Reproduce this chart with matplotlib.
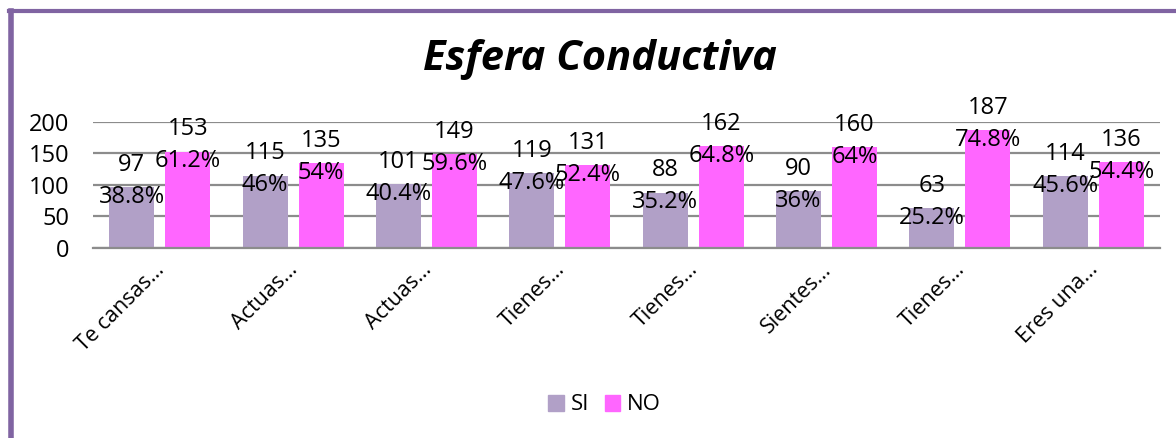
import matplotlib.pyplot as plt
import numpy as np
from matplotlib.lines import Line2D
from matplotlib.patches import Patch
from matplotlib.transforms import ScaledTranslation

plt.rcParams['font.family'] = ['Open Sans', 'DejaVu Sans']

categories = ['Te cansas…', 'Actuas…', 'Actuas…', 'Tienes…',
              'Tienes…', 'Sientes…', 'Tienes…', 'Eres una…']
si_values = [97, 115, 101, 119, 88, 90, 63, 114]
no_values = [153, 135, 149, 131, 162, 160, 187, 136]
si_pct = ['38.8%', '46%', '40.4%', '47.6%', '35.2%', '36%', '25.2%', '45.6%']
no_pct = ['61.2%', '54%', '59.6%', '52.4%', '64.8%', '64%', '74.8%', '54.4%']

SI_COLOR = '#B1A0C7'
NO_COLOR = '#FF66FF'
BORDER = '#8064A2'
GRID = '#8C8C8C'
FS = 17

fig = plt.figure(figsize=(11.76, 4.38), dpi=100)
ax = fig.add_axes([93 / 1176, 1 - 248 / 438, (1160 - 93) / 1176, 126 / 438])

x = np.arange(len(categories))
w = 0.337
off = 0.21
bars_si = ax.bar(x - off, si_values, w, color=SI_COLOR, zorder=2)
bars_no = ax.bar(x + off, no_values, w, color=NO_COLOR, zorder=2)

for bars, vals, pcts in [(bars_si, si_values, si_pct), (bars_no, no_values, no_pct)]:
    for b, v, p in zip(bars, vals, pcts):
        cx = b.get_x() + b.get_width() / 2
        ax.annotate(str(v), (cx, v), xytext=(0, 16), textcoords='offset points',
                    ha='center', va='center', fontsize=FS)
        ax.annotate(p, (cx, v), xytext=(0, -7), textcoords='offset points',
                    ha='center', va='center', fontsize=FS)

ax.set_xlim(-0.5, len(categories) - 0.5)
ax.set_ylim(0, 200)
ax.set_yticks([0, 50, 100, 150, 200])
ax.yaxis.grid(True, color=GRID, linewidth=1.6, zorder=0)
ax.set_axisbelow(True)
for s in ['top', 'right', 'left']:
    ax.spines[s].set_visible(False)
ax.spines['bottom'].set_color(GRID)
ax.spines['bottom'].set_linewidth(1.6)
ax.tick_params(axis='y', length=0, labelsize=FS, pad=17)
ax.tick_params(axis='x', length=0, labelsize=15.5, pad=8)
ax.set_xticks(x)
ax.set_xticklabels(categories, rotation=45, ha='right', va='top',
                   rotation_mode='anchor')
shift = ScaledTranslation(-4 / 72, 0, fig.dpi_scale_trans)
for lab in ax.get_xticklabels():
    lab.set_transform(lab.get_transform() + shift)

fig.text(0.51, 1 - 60 / 438, 'Esfera Conductiva', ha='center', va='center',
         fontsize=30, fontweight='bold', fontstyle='italic')

handles = [Patch(color=SI_COLOR, label='SI'), Patch(color=NO_COLOR, label='NO')]
fig.legend(handles=handles, loc='center', bbox_to_anchor=(0.514, 1 - 405 / 438),
           ncol=2, frameon=False, fontsize=16, handlelength=0.7, handleheight=0.7,
           handletextpad=0.3, columnspacing=0.7)

# purple frame (left and top only, as in the reference crop)
fig.add_artist(Line2D([11 / 1176, 11 / 1176], [0, 1 - 11 / 438], color=BORDER,
                      linewidth=4, transform=fig.transFigure))
fig.add_artist(Line2D([9 / 1176, 1], [1 - 11 / 438, 1 - 11 / 438], color=BORDER,
                      linewidth=3, transform=fig.transFigure))

fig.savefig('out.png', dpi=100)
